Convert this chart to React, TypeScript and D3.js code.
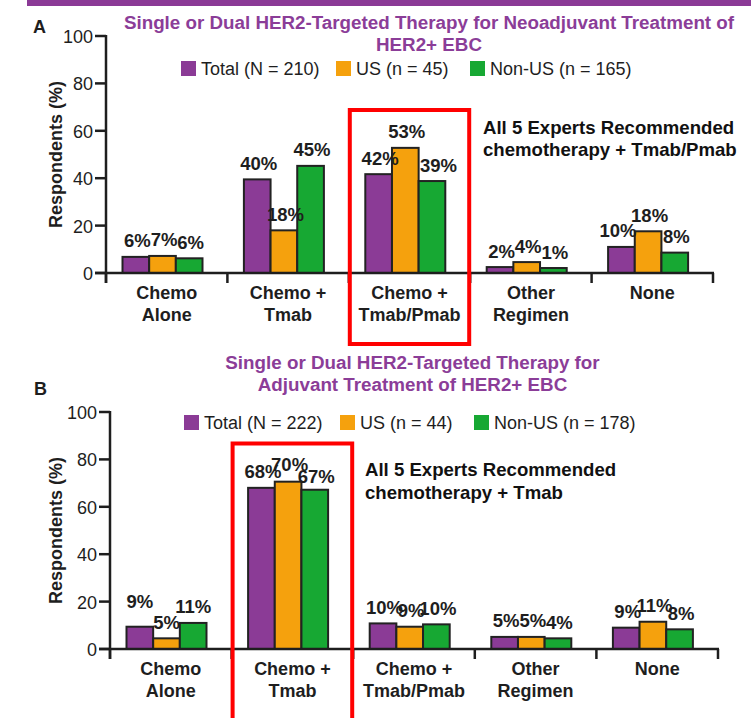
import React from "react";
import * as d3 from "d3";

// ---------- data ----------
const categories = ["Chemo Alone", "Chemo + Tmab", "Chemo + Tmab/Pmab", "Other Regimen", "None"];
const categoryLines = [["Chemo", "Alone"], ["Chemo +", "Tmab"], ["Chemo +", "Tmab/Pmab"], ["Other", "Regimen"], ["None"]];
const seriesKeys = ["Total", "US", "Non-US"];
const yTicks = [0, 20, 40, 60, 80, 100];

const legendA = ["Total (N = 210)", "US (n = 45)", "Non-US (n = 165)"];
const totalA = [6.8, 39.5, 41.7, 2.5, 11];
const usA = [7.2, 18, 52.8, 4.6, 17.6];
const nonUsA = [6.2, 45.2, 38.8, 2.1, 8.6];
const totalLabelsA = ["6%", "40%", "42%", "2%", "10%"];
const usLabelsA = ["7%", "18%", "53%", "4%", "18%"];
const nonUsLabelsA = ["6%", "45%", "39%", "1%", "8%"];

const legendB = ["Total (N = 222)", "US (n = 44)", "Non-US (n = 178)"];
const totalB = [9.4, 68, 10.8, 5.1, 9];
const usB = [4.5, 70.6, 9.4, 5.1, 11.5];
const nonUsB = [11, 67.2, 10.4, 4.5, 8.3];
const totalLabelsB = ["9%", "68%", "10%", "5%", "9%"];
const usLabelsB = ["5%", "70%", "9%", "5%", "11%"];
const nonUsLabelsB = ["11%", "67%", "10%", "4%", "8%"];

const titleA = ["Single or Dual HER2-Targeted Therapy for Neoadjuvant Treatment of", "HER2+ EBC"];
const titleB = ["Single or Dual HER2-Targeted Therapy for", "Adjuvant Treatment of HER2+ EBC"];
const noteA = ["All 5 Experts Recommended", "chemotherapy + Tmab/Pmab"];
const noteB = ["All 5 Experts Recommended", "chemotherapy + Tmab"];
const yTitle = "Respondents (%)";

// ---------- style ----------
const COLORS = ["#8B3B96", "#F5A10D", "#17A833"];
const TITLE_PURPLE = "#8B3D98";
const INK = "#1e1e1e";
const FONT = "'Liberation Sans', Arial, Helvetica, sans-serif";

type PanelProps = {
  letter: string;
  letterPos: [number, number];
  title: string[];
  titleX: number;
  titleY: number[];
  legend: string[];
  legendX: number[];
  legendTop: number;
  values: number[][];
  labels: string[][];
  labelNudge: Record<string, [number, number]>;
  axisX: number;
  xEnd: number;
  y0: number;
  y100: number;
  highlight: number;
  boxTop: number;
  boxBottom: number;
  note: string[];
  noteX: number;
  noteY: number[];
};

function Panel(p: PanelProps) {
  const y = d3.scaleLinear().domain([0, 100]).range([p.y0, p.y100]);
  const x = d3.scaleBand<string>().domain(categories).range([p.axisX, p.xEnd]).padding(0);
  const inner = d3.scaleBand<string>().domain(seriesKeys).range([16.5, 96.5]).padding(0);
  const bw = inner.bandwidth();
  const boundaries = categories.map((c) => x(c) as number).concat([p.xEnd]);
  const hx = x(categories[p.highlight]) as number;

  return (
    <g>
      <text x={p.letterPos[0]} y={p.letterPos[1]} fontSize={18} fontWeight="bold" fill={INK}>{p.letter}</text>
      {p.title.map((t, i) => (
        <text key={i} x={p.titleX} y={p.titleY[i]} textAnchor="middle" fontSize={18.8} fontWeight="bold" fill={TITLE_PURPLE}>{t}</text>
      ))}
      {p.legend.map((t, i) => (
        <g key={i}>
          <rect x={p.legendX[i]} y={p.legendTop} width={15} height={15} fill={COLORS[i]} />
          <text x={p.legendX[i] + 20} y={p.legendTop + 13.5} fontSize={18} fill={INK}>{t}</text>
        </g>
      ))}
      {/* bars */}
      {categories.map((c, ci) => (
        <g key={c}>
          {seriesKeys.map((s, si) => {
            const v = p.values[si][ci];
            const bx = (x(c) as number) + (inner(s) as number);
            return (
              <rect key={s} x={bx} y={y(v)} width={bw} height={y(0) - y(v)} fill={COLORS[si]} stroke="#222" strokeWidth={2} />
            );
          })}
          {seriesKeys.map((s, si) => {
            const v = p.values[si][ci];
            const bx = (x(c) as number) + (inner(s) as number) + bw / 2;
            const n = p.labelNudge[`${si}-${ci}`] || [0, 0];
            return (
              <text key={s + "l"} x={bx + 1.5 + n[0]} y={y(v) - 9.5 + n[1]} textAnchor="middle" fontSize={18.5} fontWeight="bold" fill={INK}>
                {p.labels[si][ci]}
              </text>
            );
          })}
        </g>
      ))}
      {/* axes */}
      <line x1={p.axisX} x2={p.axisX} y1={y(100) - 1} y2={p.y0 + 10} stroke={INK} strokeWidth={2.5} />
      <line x1={p.axisX - 11} x2={p.xEnd + 1} y1={p.y0} y2={p.y0} stroke={INK} strokeWidth={2.5} />
      {yTicks.map((t) => (
        <g key={t}>
          <line x1={p.axisX - 11} x2={p.axisX} y1={y(t)} y2={y(t)} stroke={INK} strokeWidth={2.5} />
          <text x={p.axisX - 13} y={y(t) + 7} textAnchor="end" fontSize={18} fill={INK}>{t}</text>
        </g>
      ))}
      {boundaries.map((bx, i) => (
        <line key={i} x1={bx} x2={bx} y1={p.y0} y2={p.y0 + 10} stroke={INK} strokeWidth={2.5} />
      ))}
      {categories.map((c, ci) => (
        <text key={c} textAnchor="middle" fontSize={18} fontWeight="bold" fill={INK}>
          {categoryLines[ci].map((ln, li) => (
            <tspan key={li} x={(x(c) as number) + x.bandwidth() / 2} y={p.y0 + 26 + li * 22}>{ln}</tspan>
          ))}
        </text>
      ))}
      <text transform={`translate(62,${(y(0) + y(100)) / 2}) rotate(-90)`} textAnchor="middle" fontSize={18} fontWeight="bold" fill={INK}>{yTitle}</text>
      {/* highlight box */}
      <rect x={hx + 1} y={p.boxTop} width={x.bandwidth() - 2} height={p.boxBottom - p.boxTop} fill="none" stroke="#FF0000" strokeWidth={4} />
      {p.note.map((t, i) => (
        <text key={i} x={p.noteX} y={p.noteY[i]} fontSize={18.6} fontWeight="bold" fill="#111">{t}</text>
      ))}
    </g>
  );
}

export default function App() {
  return (
    <svg width={751} height={718} style={{ position: "absolute", left: 0, top: 0, background: "#fff" }} fontFamily={FONT}>
      <rect x={0} y={0} width={751} height={718} fill="#fff" />
      <rect x={27} y={0} width={724} height={6} fill="#8B3A96" />
      <Panel
        letter="A"
        letterPos={[33, 33]}
        title={titleA}
        titleX={429}
        titleY={[28.5, 50.5]}
        legend={legendA}
        legendX={[181, 336, 470]}
        legendTop={61}
        values={[totalA, usA, nonUsA]}
        labels={[totalLabelsA, usLabelsA, nonUsLabelsA]}
        labelNudge={{ "2-2": [5, 0], "0-4": [-5, 0] }}
        axisX={106}
        xEnd={713}
        y0={273}
        y100={36}
        highlight={2}
        boxTop={110}
        boxBottom={344}
        note={noteA}
        noteX={483}
        noteY={[134, 155.5]}
      />
      <Panel
        letter="B"
        letterPos={[34, 395]}
        title={titleB}
        titleX={412.5}
        titleY={[369, 391]}
        legend={legendB}
        legendX={[184, 340, 474]}
        legendTop={415}
        values={[totalB, usB, nonUsB]}
        labels={[totalLabelsB, usLabelsB, nonUsLabelsB]}
        labelNudge={{ "0-0": [-1.5, -9], "1-0": [-1.5, 0], "2-0": [-1.5, 0], "2-1": [0, 3], "1-1": [0, -1] }}
        axisX={110}
        xEnd={718}
        y0={649}
        y100={412}
        highlight={1}
        boxTop={443.5}
        boxBottom={740}
        note={noteB}
        noteX={365}
        noteY={[476, 499]}
      />
    </svg>
  );
}
